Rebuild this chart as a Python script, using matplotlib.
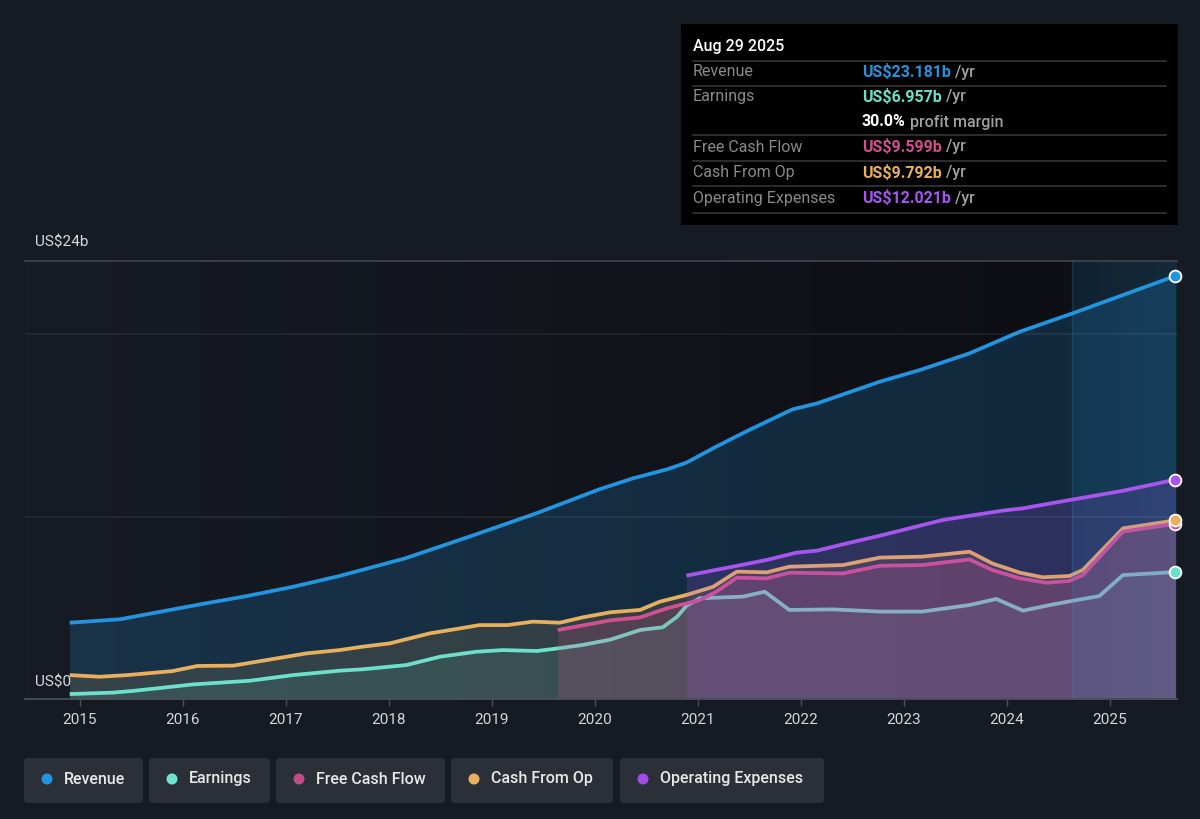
import matplotlib
matplotlib.use("Agg")
import matplotlib.pyplot as plt
import numpy as np
from matplotlib.colors import LinearSegmentedColormap
from matplotlib.patches import FancyBboxPatch, Rectangle, Circle

plt.rcParams['font.family'] = ['Roboto', 'DejaVu Sans']

# values in US$ billions, dates as decimal years
rev_dates = [2014.90, 2015.39, 2015.78, 2016.17, 2016.62, 2017.07, 2017.52, 2018.16,
             2018.83, 2019.43, 2020.05, 2020.37, 2020.70, 2020.89, 2021.18, 2021.50,
             2021.92, 2022.16, 2022.77, 2023.16, 2023.64, 2024.13, 2024.64, 2025.64]
rev_vals = [4.18, 4.37, 4.78, 5.19, 5.64, 6.15, 6.74, 7.71,
            8.99, 10.17, 11.50, 12.09, 12.58, 12.95, 13.83, 14.74,
            15.87, 16.20, 17.39, 18.03, 18.94, 20.13, 21.13, 23.181]

earn_dates = [2014.90, 2015.32, 2015.51, 2016.10, 2016.65, 2017.07, 2017.52, 2017.75,
              2018.17, 2018.50, 2018.85, 2019.11, 2019.44, 2019.69, 2019.88, 2020.15,
              2020.44, 2020.66, 2020.80, 2020.89, 2021.02, 2021.44, 2021.65, 2021.89,
              2022.31, 2022.77, 2023.18, 2023.64, 2023.90, 2024.16, 2024.42, 2024.68,
              2024.90, 2025.13, 2025.64]
earn_vals = [0.27, 0.35, 0.44, 0.80, 1.00, 1.31, 1.55, 1.63,
             1.86, 2.32, 2.59, 2.68, 2.63, 2.81, 2.96, 3.25,
             3.78, 3.93, 4.51, 5.10, 5.52, 5.61, 5.88, 4.88,
             4.91, 4.79, 4.79, 5.15, 5.48, 4.84, 5.15, 5.42,
             5.64, 6.79, 6.957]

cfo_dates = [2014.90, 2015.19, 2015.46, 2015.90, 2016.14, 2016.49, 2016.82, 2017.20,
             2017.52, 2017.75, 2018.01, 2018.40, 2018.66, 2018.88, 2019.15, 2019.40,
             2019.66, 2019.88, 2020.15, 2020.44, 2020.63, 2020.89, 2021.15, 2021.38,
             2021.67, 2021.89, 2022.41, 2022.77, 2023.18, 2023.64, 2023.86, 2024.13,
             2024.35, 2024.61, 2024.74, 2025.13, 2025.64]
cfo_vals = [1.31, 1.22, 1.31, 1.53, 1.81, 1.83, 2.14, 2.50,
            2.68, 2.87, 3.05, 3.60, 3.84, 4.05, 4.05, 4.24,
            4.18, 4.47, 4.75, 4.88, 5.33, 5.70, 6.15, 6.98,
            6.94, 7.25, 7.34, 7.75, 7.80, 8.07, 7.43, 6.92,
            6.67, 6.74, 7.07, 9.35, 9.792]

fcf_dates = [2019.64, 2020.15, 2020.44, 2020.70, 2021.02, 2021.18, 2021.38, 2021.67,
             2021.89, 2022.41, 2022.77, 2023.18, 2023.64, 2023.86, 2024.13, 2024.39,
             2024.61, 2024.74, 2025.13, 2025.64]
fcf_vals = [3.78, 4.31, 4.47, 4.97, 5.42, 5.88, 6.65, 6.61,
            6.92, 6.88, 7.30, 7.34, 7.65, 7.07, 6.61, 6.37,
            6.47, 6.79, 9.17, 9.599]

opex_dates = [2020.89, 2021.34, 2021.67, 2021.96, 2022.16, 2022.45, 2022.77, 2022.99,
              2023.38, 2023.96, 2024.16, 2024.61, 2025.13, 2025.64]
opex_vals = [6.76, 7.25, 7.62, 8.02, 8.13, 8.53, 8.95, 9.26,
             9.81, 10.32, 10.45, 10.90, 11.41, 12.021]

years = list(range(2015, 2026))

BG = '#151a23'
C_REV = '#2394df'
C_EARN = '#6de0c9'
C_FCF = '#d2508f'
C_CFO = '#e8b05c'
C_OPEX = '#a855f0'

X0, X1 = 2014.466, 2025.655
HL = 2024.64

fig = plt.figure(figsize=(12, 8.19), dpi=100, facecolor=BG)
ax = fig.add_axes([25 / 1200, 120 / 819, 1152 / 1200, 438 / 819])
ax.set_facecolor(BG)

# background gradients
grad = np.linspace(0, 1, 256).reshape(1, -1)
ax.imshow(grad, extent=[X0, HL, 0, 24], aspect='auto', zorder=0,
          cmap=LinearSegmentedColormap.from_list('bg', ['#171b24', '#0d0f14']))
ax.imshow(grad, extent=[HL, X1, 0, 24], aspect='auto', zorder=0,
          cmap=LinearSegmentedColormap.from_list('hl', ['#0f1a23', '#13222e']))

lw = 2.7
line_kw = dict(lw=lw, solid_capstyle='butt', solid_joinstyle='round')
ax.fill_between(rev_dates, rev_vals, 0, color=C_REV, alpha=0.2, lw=0, zorder=1)
ax.plot(rev_dates, rev_vals, color=C_REV, zorder=2, **line_kw)
ax.fill_between(cfo_dates, cfo_vals, 0, color=C_CFO, alpha=0.14, lw=0, zorder=3)
ax.plot(cfo_dates, cfo_vals, color=C_CFO, zorder=4, **line_kw)
ax.fill_between(earn_dates, earn_vals, 0, color=C_EARN, alpha=0.10, lw=0, zorder=5)
ax.plot(earn_dates, earn_vals, color=C_EARN, zorder=6, **line_kw)
ax.fill_between(fcf_dates, fcf_vals, 0, color=C_FCF, alpha=0.20, lw=0, zorder=7)
ax.plot(fcf_dates, fcf_vals, color=C_FCF, zorder=8, **line_kw)
ax.fill_between(opex_dates, opex_vals, 0, color=C_OPEX, alpha=0.18, lw=0, zorder=9)

# last-year highlight
ax.axvspan(HL, X1, color=C_REV, alpha=0.07, lw=0, zorder=9.5)
ax.axvline(HL, color=C_REV, alpha=0.18, lw=1, zorder=9.6)

for yv in (10, 20):
    ax.axhline(yv, color='#ffffff', alpha=0.07, lw=1.2, zorder=9.7)
ax.axhline(24, color='#3c414a', lw=1.3, zorder=9.7, clip_on=False)

ax.plot(opex_dates, opex_vals, color=C_OPEX, zorder=10, **line_kw)

for d, v, c in [(rev_dates, rev_vals, C_REV), (opex_dates, opex_vals, C_OPEX),
                (fcf_dates, fcf_vals, C_FCF), (cfo_dates, cfo_vals, C_CFO),
                (earn_dates, earn_vals, C_EARN)]:
    ax.plot(d[-1], v[-1], 'o', ms=8.5, mfc=c, mec='white', mew=1.3,
            zorder=11, clip_on=False)

ax.set_xlim(X0, X1)
ax.set_ylim(0, 24)
ax.set_yticks([])
ax.set_xticks(years)
ax.set_xticklabels([str(y) for y in years])
ax.tick_params(axis='x', direction='out', length=5, width=1, color='#4a4f58',
               labelcolor='#d6d6d6', labelsize=11, pad=5)
for s in ('top', 'left', 'right'):
    ax.spines[s].set_visible(False)
ax.spines['bottom'].set_color('#4a4f58')
ax.spines['bottom'].set_linewidth(1.3)
ax.spines['bottom'].set_zorder(12)

# overlay in pixel coordinates
ov = fig.add_axes([0, 0, 1, 1], facecolor='none')
ov.set_xlim(0, 1200)
ov.set_ylim(819, 0)
ov.axis('off')

ov.text(35, 243, 'US$24b', color='#d9d9d9', fontsize=11, va='center', ha='left')
ov.text(35, 682, 'US$0', color='#d9d9d9', fontsize=11, va='center', ha='left')

# tooltip
ov.add_patch(Rectangle((681, 24), 497, 201, facecolor='black', edgecolor='none'))
ov.text(693, 46, 'Aug 29 2025', color='white', fontsize=11.5, va='center',
        fontweight='medium')
for yl in (60.7, 85.7, 135, 161.3, 186.3, 212.7):
    ov.plot([693, 1166], [yl, yl], color='#3a3a3a', lw=1.1)

rows = [('Revenue', 'US$23.181b', C_REV, 72),
        ('Earnings', 'US$6.957b', C_EARN, 97),
        ('Free Cash Flow', 'US$9.599b', C_FCF, 147),
        ('Cash From Op', 'US$9.792b', C_CFO, 173),
        ('Operating Expenses', 'US$12.021b', C_OPEX, 198)]
for lab, val, c, yy in rows:
    ov.text(693, yy, lab, color='#8a8a8a', fontsize=11.5, va='center')
    t = ov.text(862, yy, val, color=c, fontsize=11.5, va='center', fontweight='bold')
    ov.annotate(' /yr', xy=(1, 0.5), xycoords=t, color='#a0a0a0', fontsize=11.5,
                va='center', fontweight='medium')
t = ov.text(862, 122, '30.0%', color='white', fontsize=11.5, va='center',
            fontweight='bold')
ov.annotate(' profit margin', xy=(1, 0.5), xycoords=t, color='#a0a0a0',
            fontsize=11.5, va='center', fontweight='medium')

# legend buttons
legend_names = ['Revenue', 'Earnings', 'Free Cash Flow', 'Cash From Op', 'Operating Expenses']
legend_cols = ['#2394df', '#6ee5d0', '#c14b86', '#e6b060', '#a24be8']
legend_x = [(24, 143), (149, 270), (276, 445), (451, 613), (620, 824)]
for name, c, (xa, xb) in zip(legend_names, legend_cols, legend_x):
    ov.add_patch(FancyBboxPatch((xa, 758), xb - xa, 45,
                                boxstyle='round,pad=0,rounding_size=4',
                                facecolor='#2b2f37', edgecolor='none'))
    ov.add_patch(Circle((xa + 23, 779), 5.5, facecolor=c, edgecolor='none'))
    ov.text(xa + 40, 779, name, color='#e8e8e8', fontsize=11.5, va='center',
            fontweight='medium')

fig.savefig('out.png', dpi=100, facecolor=BG)
